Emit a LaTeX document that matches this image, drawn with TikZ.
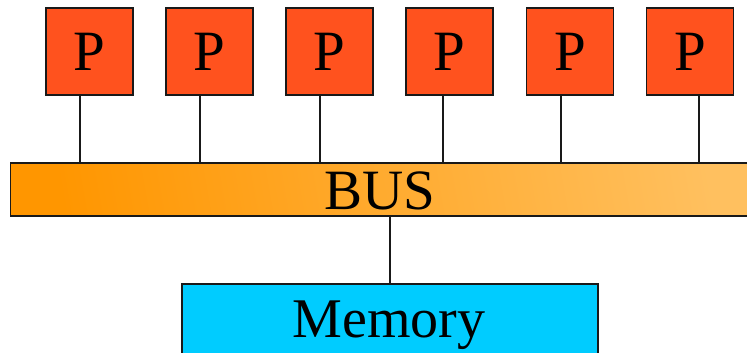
\documentclass[tikz,border=0pt]{standalone}
\usepackage{fontspec}
\setmainfont{Liberation Serif}
\definecolor{procred}{RGB}{255,82,30}
\definecolor{busA}{RGB}{255,150,0}
\definecolor{busB}{RGB}{255,192,95}
\definecolor{memcyan}{RGB}{0,204,255}
\definecolor{edge}{RGB}{25,25,25}
\tikzset{
  proc/.style={draw=edge, line width=1.3pt, fill=procred, minimum width=87pt, minimum height=87pt,
    inner sep=0pt, font=\fontsize{57}{57}\selectfont},
  busbar/.style={draw=edge, line width=1.3pt, left color=busA, right color=busB, shading angle=100,
    minimum width=750pt, minimum height=53pt, inner sep=0pt},
  membox/.style={draw=edge, line width=1.3pt, fill=memcyan, minimum width=416pt, minimum height=86pt,
    inner sep=0pt},
  wire/.style={draw=edge, line width=1.3pt}
}
\begin{document}
\begin{tikzpicture}[x=1pt,y=-1pt]
\useasboundingbox (0,0) rectangle (747,353);
% processors
\foreach \i/\cx in {1/89.5,2/209.5,3/329.5,4/449.5,5/570,6/690}
  \node[proc] (p\i) at (\cx,51.5) {P};
% shared bus
\node[busbar] (bus) at (385.5,189.5) {};
\node (buslabel) at (380,191) {\fontsize{57}{57}\selectfont BUS};
% memory
\node[membox] (mem) at (390,327) {};
\node (memlabel) at (389,325) {\fontsize{56}{56}\selectfont Memory};
% processor taps onto the bus
\foreach \i/\dx in {1/-9.5,2/-9.5,3/-9.5,4/-6.5,5/-9,6/9}
  \draw[wire] ([xshift=\dx pt]p\i.south) -- ([xshift=\dx pt]p\i.south |- bus.north);
% memory tap
\draw[wire] (mem.north) -- (mem.north |- bus.south);
\end{tikzpicture}
\end{document}
